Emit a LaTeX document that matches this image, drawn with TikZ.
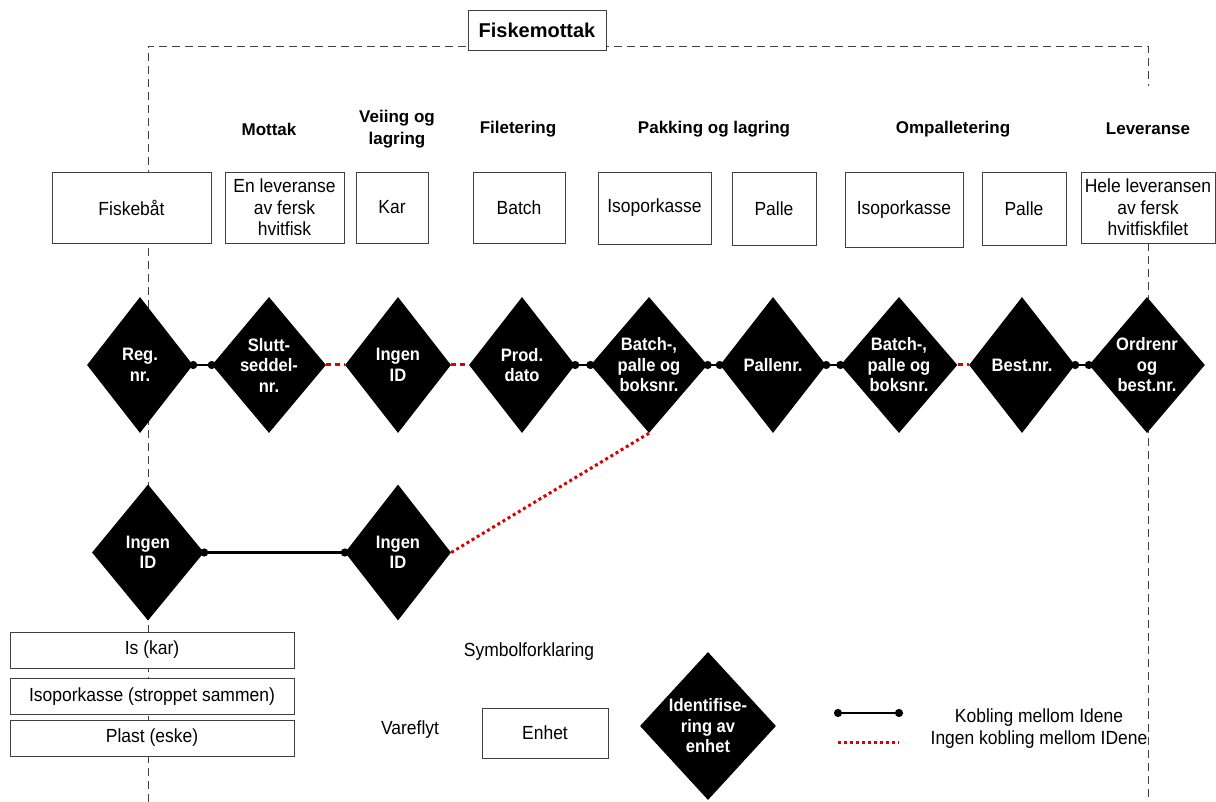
\documentclass[tikz,border=0pt]{standalone}
\usepackage{fontspec}
\setmainfont{Liberation Sans}
\newfontfamily\narrowfont{Liberation Sans}[FakeStretch=0.92]
\usetikzlibrary{shapes.geometric,arrows.meta,backgrounds}
\begin{document}
\begin{tikzpicture}[x=1pt,y=-1pt,
  every node/.style={font=\narrowfont\fontsize{19}{21.5}\selectfont},
  unitbox/.style={draw=black!75, line width=0.8pt, fill=white, align=center, inner sep=2pt},
  head/.style={font=\fontsize{17}{22}\selectfont\bfseries, align=center},
  idd/.style={diamond, fill=black, text=white, inner sep=0pt, minimum width=106pt, minimum height=136pt, align=center, font=\narrowfont\fontsize{18}{20.5}\selectfont\bfseries},
  link/.style={draw=black, line width=2.4pt, {Circle[length=8pt]}-{Circle[length=8pt]}, shorten <=-4pt, shorten >=-4pt},
  nolink/.style={draw=red!85!black, line width=3pt, dash pattern=on 5pt off 4pt},
  nolinkdot/.style={draw=red!85!black, line width=3pt, dash pattern=on 3pt off 3pt},
  outline/.style={draw=black!75, line width=0.9pt, dash pattern=on 8pt off 5pt},
]
\useasboundingbox (0,0) rectangle (1216,802);

% title
\node[unitbox, font=\fontsize{20}{22}\selectfont\bfseries, minimum width=138pt, minimum height=40pt] (title) at (537,30) {Fiskemottak};

% headers
\node[head] (h1) at (269,129) {Mottak};
\node[head] (h2) at (397,129) {Veiing og\\lagring};
\node[head] (h3) at (518,129) {Filetering};
\node[head] (h4) at (714,129) {Pakking og lagring};
\node[head] (h5) at (953,129) {Ompalletering};
\node[head] (h6) at (1148,129) {Leveranse};

% top row units
\node[unitbox, minimum width=159pt, minimum height=71pt] (u1) at (131.5,207.5) {Fiskebåt};
\node[unitbox, minimum width=119pt, minimum height=71pt] (u2) at (284.5,207.5) {En leveranse\\av fersk\\hvitfisk};
\node[unitbox, minimum width=72pt, minimum height=71pt] (u3) at (392,207.5) {Kar};
\node[unitbox, minimum width=92pt, minimum height=71pt] (u4) at (519,207.5) {Batch};
\node[unitbox, minimum width=113pt, minimum height=72pt] (u5) at (654.5,208) {Isoporkasse};
\node[unitbox, minimum width=84pt, minimum height=73pt] (u6) at (774,208.5) {Palle};
\node[unitbox, minimum width=118pt, minimum height=75pt] (u7) at (904,209.5) {Isoporkasse};
\node[unitbox, minimum width=84pt, minimum height=73pt] (u8) at (1024,208.5) {Palle};
\node[unitbox, minimum width=134pt, minimum height=71pt] (u9) at (1148,207.5) {Hele leveransen\\av fersk\\hvitfiskfilet};

% identification diamonds
\node[idd] (d1) at (140,365) {Reg.\\nr.};
\node[idd, minimum width=114pt] (d2) at (269,365) {Slutt-\\seddel-\\nr.};
\node[idd] (d3) at (398,365) {Ingen\\ID};
\node[idd] (d4) at (522,365) {Prod.\\dato};
\node[idd] (d5) at (649,365) {Batch-,\\palle og\\boksnr.};
\node[idd] (d6) at (773,365) {Pallenr.};
\node[idd] (d7) at (899,365) {Batch-,\\palle og\\boksnr.};
\node[idd] (d8) at (1022,365) {Best.nr.};
\node[idd] (d9) at (1147,365) {Ordrenr\\og\\best.nr.};

\node[idd, minimum width=112pt] (e1) at (148,552.5) {Ingen\\ID};
\node[idd] (e2) at (398,552.5) {Ingen\\ID};

% packaging boxes
\node[unitbox, minimum width=284pt, minimum height=36pt] (p1) at (152,650) {Is (kar)};
\node[unitbox, minimum width=284pt, minimum height=36pt] (p2) at (152,696.5) {Isoporkasse (stroppet sammen)};
\node[unitbox, minimum width=284pt, minimum height=36pt] (p3) at (152,738) {Plast (eske)};

% connectors
\draw[link] (d1.east) -- (d2.west);
\draw[nolink] (d2.east) -- (d3.west);
\draw[nolink] (d3.east) -- (d4.west);
\draw[link] (d4.east) -- (d5.west);
\draw[link] (d5.east) -- (d6.west);
\draw[link] (d6.east) -- (d7.west);
\draw[nolink] (d7.east) -- (d8.west);
\draw[link] (d8.east) -- (d9.west);
\draw[link] (e1.east) -- (e2.west);
\draw[nolinkdot] (e2.east) -- (d5.south);

% legend
\node (sym) at (529,652) {Symbolforklaring};
\node (vf) at (410,730) {Vareflyt};
\node[unitbox, minimum width=126pt, minimum height=50pt] (lgu) at (545,733) {Enhet};
\node[idd, minimum width=136pt, minimum height=148pt] (lgd) at (708,726) {Identifise-\\ring av\\enhet};
\coordinate (k1) at (838,713);
\coordinate (k2) at (899,713);
\coordinate (n1) at (838,742);
\coordinate (n2) at (899,742);
\draw[link] (k1) -- (k2);
\draw[nolinkdot] (n1) -- (n2);
\node (kt) at (1039,718) {Kobling mellom Idene};
\node (nt) at (1039,740) {Ingen kobling mellom IDene};

% dashed boundary of the fish reception
\begin{pgfonlayer}{background}
\draw[outline] (148,802) -- (148,46) -| (1148,86);
\draw[outline] (u9.south) -- (1148,802);
\end{pgfonlayer}
\end{tikzpicture}
\end{document}
